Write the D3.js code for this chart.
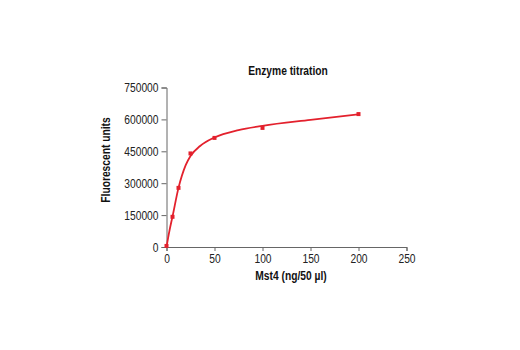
<!DOCTYPE html>
<html>
<head>
<meta charset="utf-8">
<script src="https://cdn.jsdelivr.net/npm/d3@7"></script>
<style>
  body { margin: 0; background: #fff; }
  svg text { font-family: "Liberation Sans", Arial, sans-serif; }
</style>
</head>
<body>
<svg width="520" height="350"></svg>
<script>
// measured points
var dose = [0, 6.25, 12.5, 25, 50, 100, 200];
var signal = [5000, 142000, 278000, 440000, 513000, 560000, 625000];

// fitted curve
var fitX = [0, 3, 6.25, 12.5, 20, 25, 35, 50, 75, 100, 150, 200];
var fitY = [0, 75000, 143000, 278000, 385000, 428000, 475000, 515000, 550000, 570000, 598000, 624000];

var xTicks = [0, 50, 100, 150, 200, 250];
var yTicks = [0, 150000, 300000, 450000, 600000, 750000];

var svg = d3.select("svg");
var red = "#e3212d";

var x = d3.scaleLinear().domain([0, 250]).range([166.5, 406.5]);
var y = d3.scaleLinear().domain([0, 750000]).range([247, 87.5]);

var xAxis = svg.append("g")
    .attr("transform", "translate(0," + y(0) + ")")
    .call(d3.axisBottom(x).tickValues(xTicks).tickSize(4).tickPadding(3).tickFormat(d3.format("d")));
var yAxis = svg.append("g")
    .attr("transform", "translate(" + x(0) + ",0)")
    .call(d3.axisLeft(y).tickValues(yTicks).tickSize(5).tickPadding(3).tickFormat(d3.format("d")));

[xAxis, yAxis].forEach(function(a) {
  a.select(".domain").attr("stroke", "#666").attr("stroke-width", 1);
  a.selectAll(".tick line").attr("stroke", "#666");
  a.selectAll(".tick text").attr("fill", "#222").style("font-size", "12.5px")
    .style("font-family", "'Liberation Sans', Arial, sans-serif");
});

var line = d3.line()
    .x(function(d) { return x(d[0]); })
    .y(function(d) { return y(d[1]); })
    .curve(d3.curveMonotoneX);

svg.append("path")
    .datum(d3.zip(fitX, fitY))
    .attr("d", line)
    .attr("fill", "none")
    .attr("stroke", red)
    .attr("stroke-width", 1.8);

svg.append("g").selectAll("rect")
    .data(d3.zip(dose, signal))
    .enter().append("rect")
    .attr("x", function(d) { return x(d[0]) - 2; })
    .attr("y", function(d) { return y(d[1]) - 2; })
    .attr("width", 4)
    .attr("height", 4)
    .attr("fill", red);

svg.append("text")
    .attr("x", 288).attr("y", 75)
    .attr("text-anchor", "middle")
    .style("font-size", "12.5px").style("font-weight", "bold")
    .attr("fill", "#111")
    .text("Enzyme titration");

svg.append("text")
    .attr("x", 291).attr("y", 280)
    .attr("text-anchor", "middle")
    .style("font-size", "12.5px").style("font-weight", "bold")
    .attr("fill", "#111")
    .text("Mst4 (ng/50 \u00b5l)");

svg.append("text")
    .attr("transform", "translate(110,160) rotate(-90)")
    .attr("text-anchor", "middle")
    .style("font-size", "12.5px").style("font-weight", "bold")
    .attr("fill", "#111")
    .text("Fluorescent units");

// narrow the type, the original uses a condensed face
svg.selectAll("text").each(function() {
  var w = this.getComputedTextLength();
  d3.select(this).attr("textLength", w * 0.82).attr("lengthAdjust", "spacingAndGlyphs");
});
</script>
</body>
</html>
